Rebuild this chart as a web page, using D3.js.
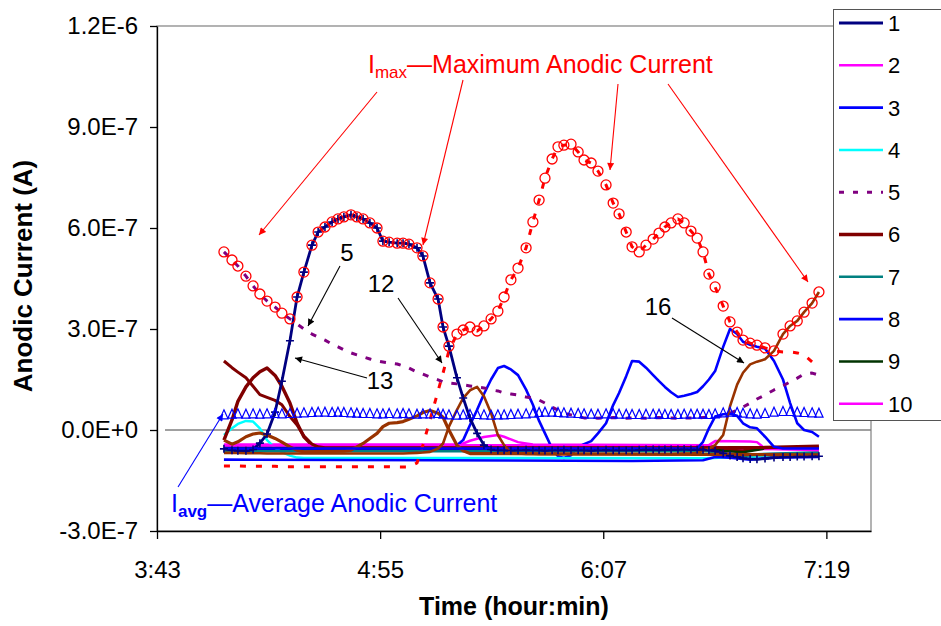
<!DOCTYPE html>
<html>
<head>
<meta charset="utf-8">
<script src="https://cdn.jsdelivr.net/npm/d3@7"></script>
<style>
  body { margin: 0; background: #fff; }
  svg { display: block; }
  text { font-family: "Liberation Sans", Arial, Helvetica, sans-serif; }
</style>
</head>
<body>
<svg id="chart" width="941" height="626"></svg>
<script>
// Anodic current values are stored in units of 1E-7 A.
const UNIT = 1e-7;

// Sample times, minutes after midnight.
const sampleMinutes = [
  244.8, 247.4, 249.3, 251.9, 254.2, 256.4, 258.7, 261.3, 263.5, 266.1,
  268.4, 270.6, 273.2, 275.2, 277.4, 279.7, 281.6, 283.5, 285.8, 287.7,
  289.7, 291.9, 294.2, 296.1, 298.1, 300.7, 302.6, 304.5, 307.1, 309.0,
  311.3, 313.9, 315.5, 317.4, 320.0, 322.0, 324.2, 326.5, 328.7, 331.0,
  333.2, 335.2, 337.4, 339.7, 342.3, 344.5, 346.5, 348.4, 350.7, 352.6,
  354.5, 356.8, 359.1, 361.0, 363.3, 365.5, 368.1, 370.4, 372.3, 374.6,
  376.5, 378.8, 381.0, 383.3, 385.2, 387.1, 389.1, 391.3, 393.3, 395.5,
  397.5, 399.4, 401.3, 403.3, 405.9, 408.1, 410.4, 412.3, 414.6, 416.8,
  419.4, 422.3, 425.2, 427.5, 429.8, 432.0, 434.6, 436.8
];

// Maximum anodic current over all probes
const iMax = [
  5.29, 5.05, 4.87, 4.57, 4.28, 4.04, 3.83, 3.65, 3.47, 3.30,
  3.95, 4.69, 5.49, 5.88, 6.03, 6.18, 6.27, 6.33, 6.39, 6.33,
  6.27, 6.15, 6.00, 5.61, 5.58, 5.55, 5.55, 5.52, 5.41, 5.17,
  4.37, 3.89, 3.06, 2.49, 2.85, 2.97, 3.06, 2.94, 3.09, 3.30,
  3.53, 3.95, 4.46, 4.81, 5.41, 6.18, 6.83, 7.48, 8.05, 8.41,
  8.46, 8.49, 8.26, 8.02, 7.93, 7.69, 7.28, 6.74, 6.42, 5.88,
  5.44, 5.29, 5.49, 5.67, 5.85, 6.03, 6.15, 6.27, 6.15, 5.91,
  5.70, 5.29, 4.63, 4.25, 3.68, 3.21, 2.91, 2.67, 2.58, 2.52,
  2.44, 2.35, 2.85, 3.09, 3.24, 3.50, 3.77, 4.10
];

// Average anodic current over all probes
const iAvg = [
  0.45, 0.47, 0.48, 0.47, 0.48, 0.47, 0.48, 0.49, 0.48, 0.49,
  0.50, 0.51, 0.52, 0.53, 0.53, 0.52, 0.53, 0.52, 0.51, 0.50,
  0.49, 0.49, 0.48, 0.48, 0.49, 0.48, 0.49, 0.48, 0.47, 0.48,
  0.48, 0.49, 0.47, 0.45, 0.44, 0.45, 0.46, 0.46, 0.45, 0.44,
  0.45, 0.45, 0.46, 0.47, 0.48, 0.50, 0.52, 0.53, 0.53, 0.52,
  0.51, 0.50, 0.49, 0.48, 0.47, 0.47, 0.48, 0.48, 0.47, 0.47,
  0.46, 0.46, 0.47, 0.47, 0.47, 0.46, 0.46, 0.46, 0.47, 0.47,
  0.47, 0.47, 0.46, 0.48, 0.51, 0.53, 0.52, 0.50, 0.48, 0.47,
  0.49, 0.53, 0.55, 0.55, 0.53, 0.52, 0.51, 0.50
];

// Probe series, full sample-by-sample values
const probe5 = [
  5.29, 5.05, 4.87, 4.57, 4.28, 4.04, 3.83, 3.65, 3.47, 3.30,
  3.15, 3.00, 2.85, 2.76, 2.67, 2.55, 2.47, 2.38, 2.29, 2.23,
  2.17, 2.11, 2.05, 2.02, 1.99, 1.96, 1.90, 1.84, 1.72, 1.66,
  1.57, 1.49, 1.43, 1.40, 1.37, 1.34, 1.31, 1.28, 1.25, 1.19,
  1.16, 1.10, 1.07, 1.04, 0.98, 0.95, 0.89, 0.80, 0.68, 0.59,
  0.50, 0.45, 0.39, 0.36, 0.36, 0.35, 0.36, 0.37, 0.36, 0.35,
  0.36, 0.36, 0.35, 0.36, 0.37, 0.36, 0.36, 0.35, 0.36, 0.36,
  0.36, 0.37, 0.38, 0.39, 0.42, 0.50, 0.59, 0.68, 0.80, 0.92,
  1.04, 1.19, 1.31, 1.43, 1.54, 1.66, 1.69, 1.63
];
const probe12 = [
  -1.07, -1.07, -1.07, -1.08, -1.08, -1.08, -1.08, -1.08, -1.09, -1.09,
  -1.09, -1.09, -1.09, -1.09, -1.09, -1.09, -1.09, -1.09, -1.09, -1.09,
  -1.09, -1.09, -1.09, -1.09, -1.09, -1.10, -1.10, -1.10, -0.98, -0.45,
  0.30, 1.16, 1.69, 2.35, 2.85, 2.97, 3.06, 2.94, 3.09, 3.30,
  3.53, 3.95, 4.46, 4.81, 5.41, 6.18, 6.83, 7.48, 8.05, 8.41,
  8.46, 8.49, 8.26, 8.02, 7.93, 7.69, 7.28, 6.74, 6.42, 5.88,
  5.44, 5.29, 5.49, 5.67, 5.85, 6.03, 6.15, 6.27, 6.15, 5.91,
  5.70, 5.29, 4.63, 4.25, 3.68, 3.21, 2.91, 2.67, 2.58, 2.52,
  2.44, 2.35, 2.32, 2.32, 2.29, 2.23, 2.02, 1.84
];
const probe13 = [
  -0.56, -0.60, -0.62, -0.62, -0.58, -0.39, -0.12, 0.53, 1.45, 2.65,
  3.95, 4.69, 5.49, 5.88, 6.03, 6.18, 6.27, 6.33, 6.39, 6.33,
  6.27, 6.15, 6.00, 5.61, 5.58, 5.55, 5.55, 5.52, 5.41, 5.17,
  4.37, 3.89, 3.06, 2.49, 1.55, 0.95, 0.35, -0.10, -0.45, -0.58,
  -0.60, -0.60, -0.61, -0.60, -0.59, -0.60, -0.60, -0.61, -0.60, -0.60,
  -0.59, -0.60, -0.60, -0.60, -0.61, -0.60, -0.59, -0.60, -0.60, -0.60,
  -0.60, -0.59, -0.58, -0.58, -0.59, -0.58, -0.58, -0.58, -0.57, -0.58,
  -0.58, -0.59, -0.60, -0.62, -0.70, -0.76, -0.80, -0.84, -0.86, -0.87,
  -0.85, -0.82, -0.80, -0.80, -0.79, -0.79, -0.78, -0.78
];
const probe16 = [
  -0.68, -0.68, -0.68, -0.69, -0.69, -0.69, -0.70, -0.70, -0.70, -0.70,
  -0.70, -0.70, -0.70, -0.70, -0.70, -0.70, -0.70, -0.70, -0.70, -0.70,
  -0.70, -0.70, -0.70, -0.70, -0.70, -0.70, -0.70, -0.69, -0.68, -0.67,
  -0.65, -0.55, -0.40, 0.10, 0.60, 0.95, 1.18, 1.28, 1.00, 0.50,
  -0.15, -0.45, -0.68, -0.70, -0.71, -0.71, -0.72, -0.72, -0.72, -0.72,
  -0.72, -0.72, -0.72, -0.72, -0.72, -0.72, -0.72, -0.72, -0.72, -0.72,
  -0.72, -0.72, -0.72, -0.72, -0.72, -0.72, -0.72, -0.71, -0.70, -0.70,
  -0.68, -0.62, -0.55, -0.45, -0.15, 0.70, 1.35, 1.70, 1.95, 2.03,
  2.10, 2.35, 2.85, 3.09, 3.24, 3.50, 3.77, 4.10
];
const probe3 = [
  -0.52, -0.52, -0.52, -0.52, -0.52, -0.52, -0.52, -0.52, -0.52, -0.52,
  -0.52, -0.52, -0.52, -0.52, -0.52, -0.52, -0.52, -0.52, -0.52, -0.52,
  -0.52, -0.52, -0.52, -0.52, -0.52, -0.52, -0.52, -0.52, -0.52, -0.52,
  -0.52, -0.52, -0.52, -0.52, -0.45, -0.30, 0.15, 0.60, 1.07, 1.50,
  1.84, 1.90, 1.80, 1.63, 1.20, 0.75, 0.27, -0.10, -0.55, -0.78,
  -0.83, -0.75, -0.50, -0.42, -0.33, -0.10, 0.20, 0.74, 1.10, 1.60,
  2.05, 2.03, 1.85, 1.63, 1.45, 1.28, 1.12, 0.98, 1.02, 1.07,
  1.13, 1.30, 1.50, 1.75, 2.47, 3.00, 2.85, 2.62, 2.53, 2.47,
  2.42, 2.05, 1.50, 0.80, 0.20, 0.00, -0.06, -0.20
];

// Probe series given as [sample index, value] vertices
const probe1 = [[0, -0.60], [72, -0.60], [74, -0.70], [77, -0.76], [80, -0.73], [87, -0.70]];
const probe2 = [[0, -0.43], [34, -0.43], [35, -0.40], [36, -0.32], [37, -0.26], [38, -0.21], [39, -0.18],
  [40, -0.15], [41, -0.20], [42, -0.28], [43, -0.36], [44, -0.40], [45, -0.43], [72, -0.45], [74, -0.55], [87, -0.58]];
const probe4 = [[0, -0.15], [1, 0.05], [2, 0.18], [3, 0.27], [4, 0.25], [5, 0.05], [6, -0.30], [7, -0.53],
  [8, -0.66], [9, -0.76], [10, -0.82], [11, -0.83], [72, -0.84], [74, -0.82], [87, -0.74]];
const probe6 = [[0, -0.30], [1, 0.30], [2, 0.85], [3, 1.28], [4, 1.55], [5, 1.73], [6, 1.84], [7, 1.62],
  [8, 1.30], [9, 0.80], [10, 0.20], [11, -0.20], [12, -0.45], [13, -0.52], [72, -0.50], [74, -0.60],
  [77, -0.62], [80, -0.52], [87, -0.48]];
const probe7 = [[0, -0.63], [72, -0.63], [74, -0.78], [76, -0.80], [79, -0.72], [87, -0.66]];
const probe8 = [[0, -0.88], [30, -0.90], [60, -0.92], [71, -0.90], [73, -0.80], [75, -0.82], [78, -0.88],
  [81, -0.82], [87, -0.80]];
const probe9 = [[0, -0.53], [72, -0.53], [74, -0.62], [77, -0.66], [80, -0.55], [87, -0.52]];
const probe10 = [[0, -0.46], [72, -0.45], [73, -0.33], [78, -0.34], [79, -0.36], [80, -0.55], [87, -0.60]];
const probe11 = [[0, 2.05], [1, 1.85], [2, 1.72], [3, 1.55], [4, 1.30], [5, 1.05], [6, 0.97], [7, 0.88],
  [8, 0.75], [9, 0.40], [10, 0.15], [11, -0.18], [12, -0.42], [13, -0.50], [14, -0.53], [87, -0.52]];
const probe14 = [[0, -0.30], [1, -0.42], [2, -0.35], [3, -0.20], [4, -0.12], [5, -0.09], [6, -0.15],
  [7, -0.25], [8, -0.36], [9, -0.50], [10, -0.60], [11, -0.65], [17, -0.63], [18, -0.60], [19, -0.50],
  [20, -0.40], [21, -0.25], [22, -0.10], [23, 0.10], [24, 0.20], [25, 0.22], [26, 0.25], [27, 0.32],
  [28, 0.42], [29, 0.52], [30, 0.58], [31, 0.50], [32, 0.38], [33, 0.00], [34, -0.45], [35, -0.62],
  [36, -0.70], [87, -0.74]];
const probe15 = [[0, -0.55], [70, -0.55], [71, -0.35], [72, 0.05], [73, 0.40], [74, 0.47], [75, 0.48],
  [76, 0.42], [77, 0.20], [78, 0.08], [79, 0.05], [80, -0.20], [81, -0.50], [82, -0.55], [87, -0.55]];

// Axis ticks
const xTickMinutes = [223.2, 295.2, 367.2, 439.2];
const xTickLabels = ["3:43", "4:55", "6:07", "7:19"];
const yTickValues = [-3e-7, 0, 3e-7, 6e-7, 9e-7, 1.2e-6];
const yTickLabels = ["-3.0E-7", "0.0E+0", "3.0E-7", "6.0E-7", "9.0E-7", "1.2E-6"];
const legendNames = ["1", "2", "3", "4", "5", "6", "7", "8", "9", "10"];

// ---------- layout ----------
const svg = d3.select("#chart");
const plot = { left: 157, right: 871, top: 26, bottom: 531 };

const x = d3.scaleLinear().domain([223.2, 453.6]).range([plot.left, plot.right]);
const y = d3.scaleLinear().domain([-3e-7, 1.2e-6]).range([plot.bottom, plot.top]);

function toPoints(values) {
  if (Array.isArray(values[0])) {
    return values.map(([i, v]) => ({ t: sampleMinutes[i], v }));
  }
  return values.map((v, i) => ({ t: sampleMinutes[i], v }));
}
const line = d3.line().x(d => x(d.t)).y(d => y(d.v * UNIT));

// Arrowhead markers
const defs = svg.append("defs");
[["arrowRed", "#ff0000"], ["arrowBlack", "#000000"], ["arrowBlue", "#0000ff"]].forEach(([id, c]) => {
  defs.append("marker")
    .attr("id", id).attr("viewBox", "0 0 10 10")
    .attr("refX", 10).attr("refY", 5)
    .attr("markerWidth", 9).attr("markerHeight", 7)
    .attr("markerUnits", "userSpaceOnUse")
    .attr("orient", "auto")
    .append("path").attr("d", "M0,0 L10,5 L0,10 Z").attr("fill", c);
});

// Plot area frame (gray), axes drawn on top in black
svg.append("rect")
  .attr("x", plot.left).attr("y", plot.top)
  .attr("width", plot.right - plot.left).attr("height", plot.bottom - plot.top)
  .attr("fill", "none").attr("stroke", "#808080").attr("stroke-width", 1.2);

// Zero reference line
svg.append("line")
  .attr("x1", 165).attr("x2", plot.right)
  .attr("y1", y(0)).attr("y2", y(0))
  .attr("stroke", "#808080").attr("stroke-width", 1.6);

// Axes
const yAxis = svg.append("g")
  .attr("transform", `translate(${plot.left},0)`)
  .call(d3.axisLeft(y).tickValues(yTickValues)
    .tickFormat((d, i) => yTickLabels[i]).tickSize(7).tickPadding(12).tickSizeOuter(0));
const xAxis = svg.append("g")
  .attr("transform", `translate(0,${plot.bottom})`)
  .call(d3.axisBottom(x).tickValues(xTickMinutes)
    .tickFormat((d, i) => xTickLabels[i]).tickSize(8).tickPadding(22).tickSizeOuter(0));
[yAxis, xAxis].forEach(g => {
  g.select(".domain").attr("stroke", "#000").attr("stroke-width", 1.3);
  g.selectAll(".tick line").attr("stroke", "#000").attr("stroke-width", 1.3);
  g.selectAll(".tick text").attr("font-size", 24).attr("fill", "#000")
    .attr("font-family", '"Liberation Sans", Arial, sans-serif');
});

// Axis titles
svg.append("text")
  .attr("x", (plot.left + plot.right) / 2).attr("y", 615)
  .attr("text-anchor", "middle").attr("font-size", 25).attr("font-weight", "bold")
  .text("Time (hour:min)");
svg.append("text")
  .attr("transform", "translate(32,276) rotate(-90)")
  .attr("text-anchor", "middle").attr("font-size", 26).attr("font-weight", "bold")
  .text("Anodic Current (A)");

// ---------- series ----------
const seriesList = [
  { values: probe1, color: "#000080", width: 3.2 },
  { values: probe2, color: "#ff00ff", width: 2.5 },
  { values: probe3, color: "#0000ff", width: 2.6 },
  { values: probe4, color: "#00ffff", width: 2.5 },
  { values: probe5, color: "#800080", width: 3, dash: "6,9" },
  { values: probe6, color: "#800000", width: 3.4 },
  { values: probe7, color: "#008080", width: 2.5 },
  { values: probe8, color: "#0000ff", width: 2.6 },
  { values: probe9, color: "#003300", width: 2.5 },
  { values: probe10, color: "#ff00ff", width: 2.5 },
  { values: probe11, color: "#800000", width: 3 },
  { values: probe12, color: "#ff0000", width: 3, dash: "6,10" },
  { values: probe13, color: "#000080", width: 2.8 },
  { values: probe14, color: "#993300", width: 3.2 },
  { values: probe15, color: "#0000ff", width: 2.6 },
  { values: probe16, color: "#993300", width: 2.6 }
];

const gLines = svg.append("g");
seriesList.forEach(s => {
  gLines.append("path")
    .datum(toPoints(s.values))
    .attr("d", line)
    .attr("fill", "none")
    .attr("stroke", s.color)
    .attr("stroke-width", s.width)
    .attr("stroke-linejoin", "round")
    .attr("stroke-dasharray", s.dash || null);
});

// "+" markers on probe 13
svg.append("g").selectAll("path")
  .data(toPoints(probe13))
  .join("path")
  .attr("transform", d => `translate(${x(d.t)},${y(d.v * UNIT)})`)
  .attr("d", "M-4,0H4M0,-4V4")
  .attr("stroke", "#000080").attr("stroke-width", 1.6);

// Average current: open triangles
svg.append("g").selectAll("path")
  .data(toPoints(iAvg))
  .join("path")
  .attr("transform", d => `translate(${x(d.t)},${y(d.v * UNIT)})`)
  .attr("d", "M0,-5L4.1,4L-4.1,4Z")
  .attr("fill", "none").attr("stroke", "#0000ff").attr("stroke-width", 1.2);

// Maximum current: open circles
svg.append("g").selectAll("circle")
  .data(toPoints(iMax))
  .join("circle")
  .attr("cx", d => x(d.t)).attr("cy", d => y(d.v * UNIT))
  .attr("r", 5)
  .attr("fill", "none").attr("stroke", "#ff0000").attr("stroke-width", 1.3);

// ---------- annotations ----------
function arrow(x1, y1, x2, y2, color, markerId) {
  svg.append("line")
    .attr("x1", x1).attr("y1", y1).attr("x2", x2).attr("y2", y2)
    .attr("stroke", color).attr("stroke-width", 1.1)
    .attr("marker-end", `url(#${markerId})`);
}

// Imax caption and its arrows
const tMax = svg.append("text").attr("x", 368).attr("y", 73)
  .attr("fill", "#ff0000").attr("font-size", 25);
tMax.append("tspan").text("I");
tMax.append("tspan").attr("dy", 5).attr("font-size", 17).text("max");
tMax.append("tspan").attr("dy", -5).text("\u2014Maximum Anodic Current");
arrow(377, 92, 259, 235, "#ff0000", "arrowRed");
arrow(463, 80, 423, 245, "#ff0000", "arrowRed");
arrow(618, 84, 610, 170, "#ff0000", "arrowRed");
arrow(668, 84, 808, 282, "#ff0000", "arrowRed");

// Iavg caption and its arrow
const tAvg = svg.append("text").attr("x", 171).attr("y", 512)
  .attr("fill", "#0000ff").attr("font-size", 25);
tAvg.append("tspan").text("I");
tAvg.append("tspan").attr("dy", 5).attr("font-size", 17).attr("font-weight", "bold").text("avg");
tAvg.append("tspan").attr("dy", -5).text("\u2014Average Anodic Current");
arrow(178, 487, 223, 414, "#0000ff", "arrowBlue");

// Probe call-outs
const callouts = [
  { label: "5", tx: 347, ty: 261, from: [340, 266], to: [308, 326] },
  { label: "12", tx: 381, ty: 292, from: [398, 298], to: [442, 363] },
  { label: "13", tx: 380, ty: 389, from: [367, 378], to: [295, 358] },
  { label: "16", tx: 658, ty: 315, from: [672, 318], to: [744, 363] }
];
callouts.forEach(c => {
  svg.append("text").attr("x", c.tx).attr("y", c.ty)
    .attr("text-anchor", "middle").attr("font-size", 24).attr("fill", "#000")
    .text(c.label);
  arrow(c.from[0], c.from[1], c.to[0], c.to[1], "#000", "arrowBlack");
});

// ---------- legend ----------
const legend = svg.append("g");
legend.append("rect")
  .attr("x", 833.5).attr("y", 9.5).attr("width", 120).attr("height", 411)
  .attr("fill", "#fff").attr("stroke", "#555").attr("stroke-width", 1);
legendNames.forEach((name, i) => {
  const s = seriesList[i];
  const ly = 23 + i * 42.3;
  legend.append("line")
    .attr("x1", 839).attr("x2", 883).attr("y1", ly).attr("y2", ly)
    .attr("stroke", s.color).attr("stroke-width", s.width)
    .attr("stroke-dasharray", s.dash ? "5,9" : null);
  legend.append("text")
    .attr("x", 888).attr("y", ly).attr("dy", "0.36em")
    .attr("font-size", 22).attr("fill", "#000").text(name);
});
</script>
</body>
</html>
